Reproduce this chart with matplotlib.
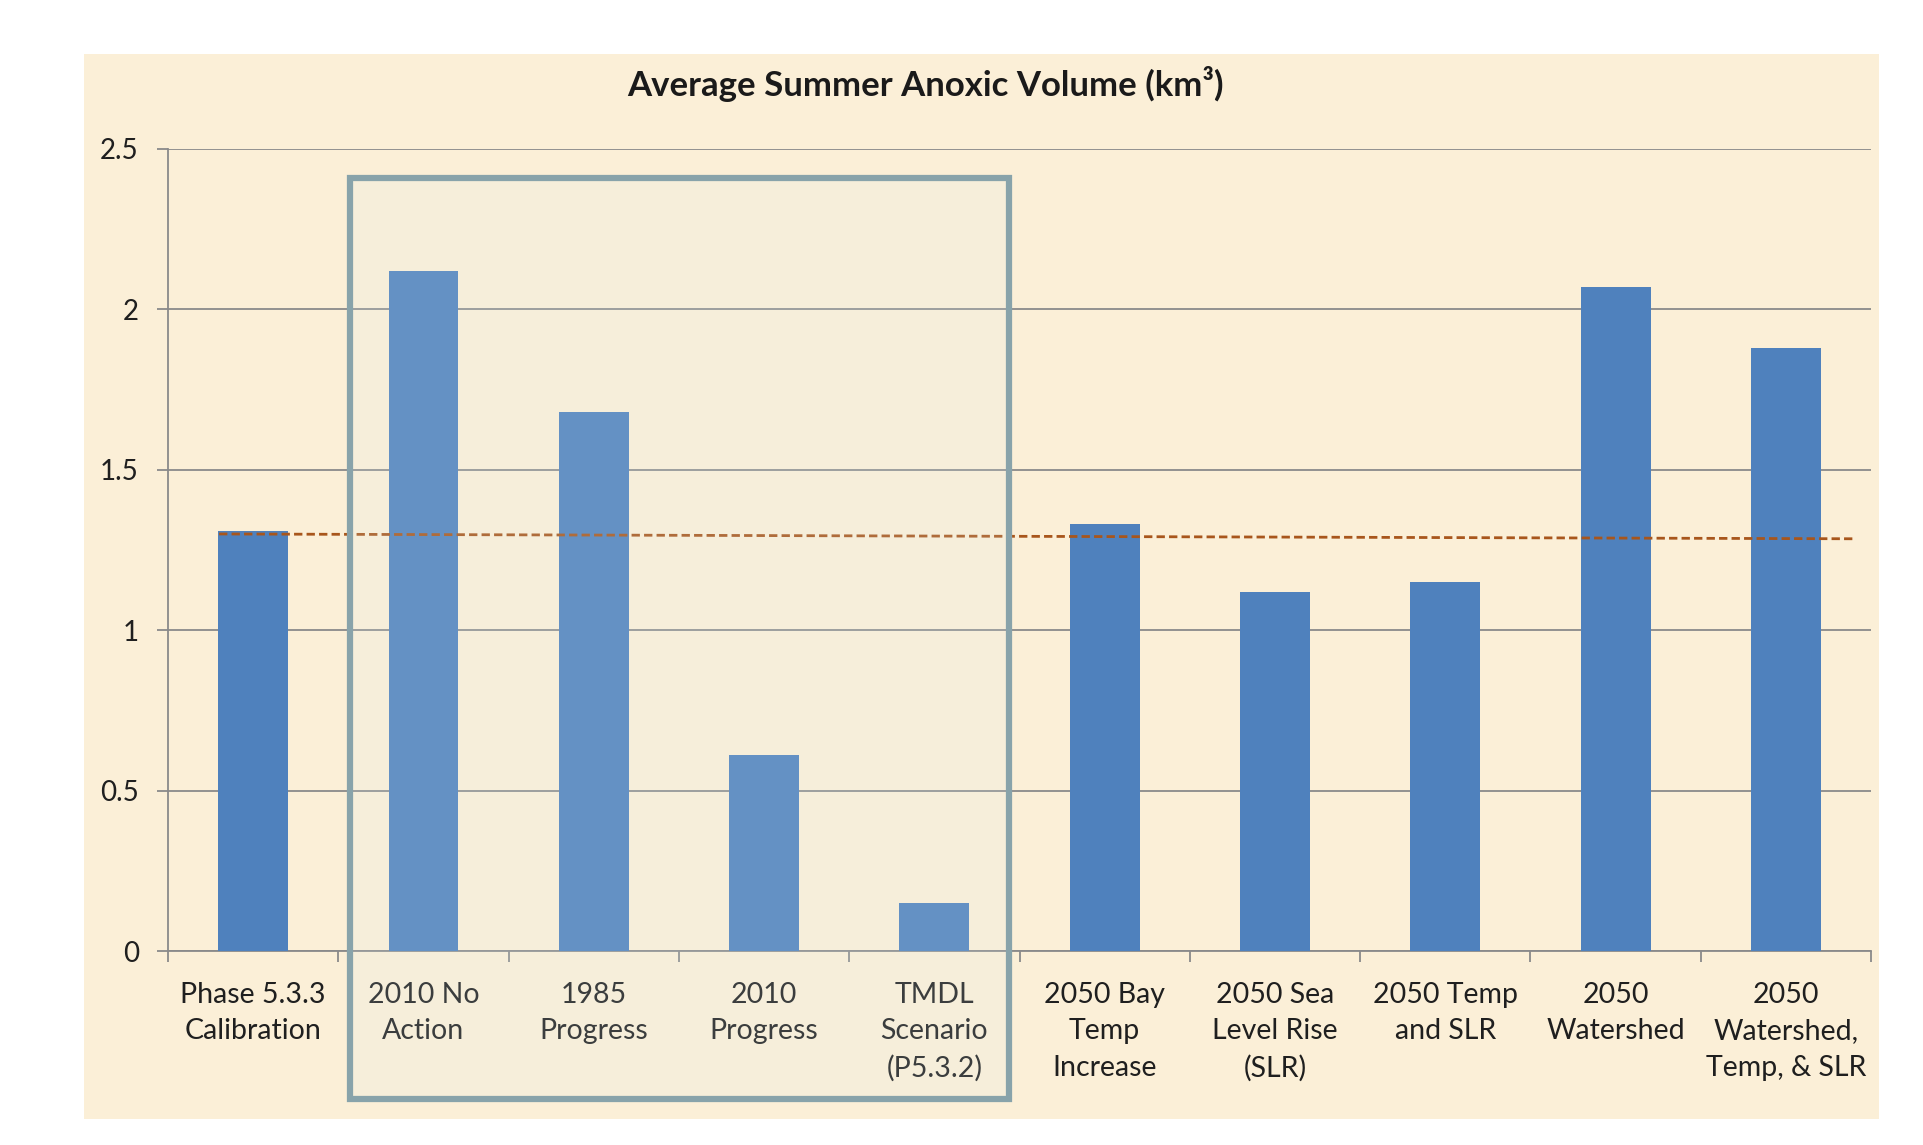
import matplotlib.pyplot as plt
from matplotlib.patches import Rectangle

# Data
categories = ["Phase 5.3.3\nCalibration", "2010 No\nAction", "1985\nProgress",
              "2010\nProgress", "TMDL\nScenario\n(P5.3.2)", "2050 Bay\nTemp\nIncrease",
              "2050 Sea\nLevel Rise\n(SLR)", "2050 Temp\nand SLR", "2050\nWatershed",
              "2050\nWatershed,\nTemp, & SLR"]
volumes = [1.31, 2.12, 1.68, 0.61, 0.15, 1.33, 1.12, 1.15, 2.07, 1.88]
ref_line_x = [-0.2, 9.39]
ref_line_y = [1.30, 1.285]
y_ticks = [0, 0.5, 1, 1.5, 2, 2.5]
y_tick_labels = ["0", "0.5", "1", "1.5", "2", "2.5"]

plt.rcParams["font.family"] = ["Lato", "DejaVu Sans"]

fig = plt.figure(figsize=(19.24, 11.45), dpi=100, facecolor="white")

# parchment background panel
fig.patches.append(Rectangle((0.0437, 0.0227), 0.933, 0.930, transform=fig.transFigure,
                             facecolor="#FBEFD7", edgecolor="none", zorder=-1))

ax = fig.add_axes([0.0873, 0.1694, 0.8852, 0.7005])
ax.set_facecolor("none")
ax.set_zorder(1)

x = range(len(categories))
ax.bar(x, volumes, width=0.41, color="#4F81BD", zorder=3)
ax.plot(ref_line_x, ref_line_y, color="#A8561C", lw=2, linestyle=(0, (3, 1.5)), zorder=4)

ax.set_xlim(-0.5, len(categories) - 0.5)
ax.set_ylim(0, 2.5)
ax.set_yticks(y_ticks)
ax.set_yticklabels(y_tick_labels)
ax.yaxis.grid(True, color="#8A8A8A", lw=1.3, zorder=1)
ax.set_axisbelow(True)

# category labels centred, ticks on boundaries
ax.set_xticks(list(x))
ax.set_xticklabels(categories, linespacing=1.5)
ax.set_xticks([i - 0.5 for i in range(len(categories) + 1)], minor=True)
ax.tick_params(axis="x", which="major", length=0, pad=22, labelsize=20.5, labelcolor="#1f1f1f")
ax.tick_params(axis="x", which="minor", length=8, width=1.3, color="#8A8A8A", direction="out")
ax.tick_params(axis="y", length=8, width=1.3, color="#8A8A8A", pad=13, labelsize=20, labelcolor="#1f1f1f")

for s in ["top", "right"]:
    ax.spines[s].set_visible(False)
for s in ["left", "bottom"]:
    ax.spines[s].set_color("#8A8A8A")
    ax.spines[s].set_linewidth(1.3)

# highlight box around the 2010/TMDL scenarios
ax.add_patch(Rectangle((0.569, -0.46), 3.869, 2.87, facecolor="#DDEEF0", alpha=0.15,
                       edgecolor="none", clip_on=False, zorder=5))
ax.add_patch(Rectangle((0.569, -0.46), 3.869, 2.87, facecolor="none", edgecolor="#88A3AA",
                       lw=4.5, clip_on=False, zorder=6))

fig.text(0.481, 0.927, "Average Summer Anoxic Volume (km³)", ha="center", va="center",
         fontsize=25, fontweight="bold", color="#1a1a1a")

plt.savefig("out.png", dpi=100, facecolor="white")
